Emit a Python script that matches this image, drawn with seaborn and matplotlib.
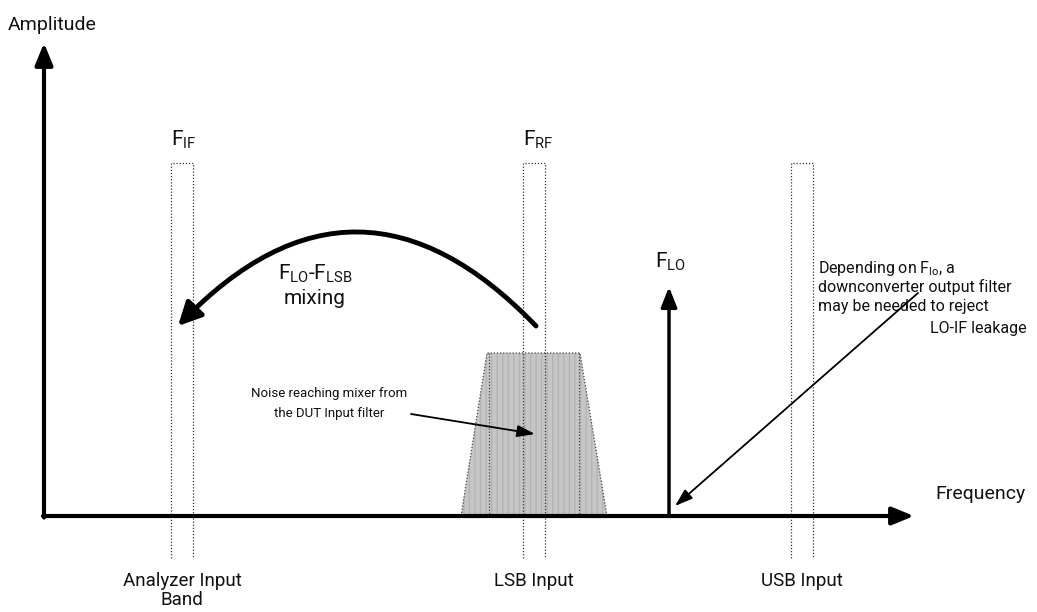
import matplotlib
matplotlib.use("Agg")
import matplotlib.pyplot as plt
import seaborn as sns
from matplotlib.patches import Polygon, FancyArrowPatch

sns.set_theme(style="white")
plt.rcParams['font.family'] = ['Roboto', 'DejaVu Sans']
plt.rcParams['mathtext.fontset'] = 'custom'
plt.rcParams['mathtext.rm'] = 'Roboto'
plt.rcParams['mathtext.it'] = 'Roboto'

# diagram layout (pixel space, y down)
band_names = [r'$\mathrm{F_{IF}}$', r'$\mathrm{F_{RF}}$', '']
band_left = [171, 523, 791]
band_width = 22
band_top = 163
band_bottom = 558
band_labels = [['Analyzer Input', 'Band'], ['LSB Input'], ['USB Input']]

baseline = 516
lo_x = 669
lo_top = 287

trap_x = [461, 487, 580, 607]
trap_top = 353

fig = plt.figure(figsize=(10.37, 6.12), dpi=100)
ax = fig.add_axes([0, 0, 1, 1])
ax.set_xlim(0, 1037)
ax.set_ylim(612, 0)
ax.axis('off')

dot = (0, (1, 1.5))
txt = '#111111'

# noise trapezoid
trap = Polygon([(trap_x[0], baseline), (trap_x[1], trap_top), (trap_x[2], trap_top), (trap_x[3], baseline)],
               closed=True, facecolor='#c6c6c6', edgecolor='#b4b4b4', hatch='|||', linewidth=0, zorder=1)
ax.add_patch(trap)
ax.plot([trap_x[0], trap_x[1], trap_x[2], trap_x[3]], [baseline, trap_top, trap_top, baseline],
        color='#444444', lw=0.9, ls=dot, zorder=2)
for x in [trap_x[1] + 2, trap_x[2] - 1]:
    ax.plot([x, x], [trap_top, baseline], color='#444444', lw=0.9, ls=dot, zorder=2)

# dotted bands
for name, left, lab in zip(band_names, band_left, band_labels):
    ax.plot([left, left, left + band_width, left + band_width],
            [band_bottom, band_top, band_top, band_bottom], color='#333333', lw=0.9, ls=dot, zorder=3)
    if name:
        ax.text(left, 140, name, fontsize=15, ha='left', va='center', color=txt)
    for i, line in enumerate(lab):
        ax.text(left + band_width / 2, 581 + 19 * i, line, fontsize=13.5, ha='center', va='center', color=txt)

# axes arrows
ax.annotate('', xy=(44, 43), xytext=(44, baseline + 1.5),
            arrowprops=dict(arrowstyle='-|>,head_width=0.45,head_length=1.1', lw=3, color='black',
                            shrinkA=0, shrinkB=0), zorder=5)
ax.annotate('', xy=(914, baseline), xytext=(43, baseline),
            arrowprops=dict(arrowstyle='-|>,head_width=0.45,head_length=1.1', lw=3, color='black',
                            shrinkA=0, shrinkB=0), zorder=5)
ax.text(8, 25, 'Amplitude', fontsize=14, ha='left', va='center', color=txt)
ax.text(935, 494, 'Frequency', fontsize=14, ha='left', va='center', color=txt)

# LO line
ax.annotate('', xy=(lo_x, lo_top), xytext=(lo_x, baseline),
            arrowprops=dict(arrowstyle='-|>,head_width=0.4,head_length=1.0', lw=2.5, color='black',
                            shrinkA=0, shrinkB=0), zorder=5)
ax.text(655, 262, r'$\mathrm{F_{LO}}$', fontsize=15, ha='left', va='center', color=txt)

# mixing arc
arc = FancyArrowPatch((536, 326), (178, 326), connectionstyle='arc3,rad=0.52',
                      arrowstyle='-|>,head_width=7,head_length=14', lw=3.5, color='black',
                      shrinkA=0, shrinkB=0, zorder=6)
ax.add_patch(arc)
ax.text(315, 274, r'$\mathrm{F_{LO}}$-$\mathrm{F_{LSB}}$', fontsize=15, ha='center', va='center', color=txt)
ax.text(315, 299, 'mixing', fontsize=15, ha='center', va='center', color=txt)

# noise note
ax.text(329, 394, 'Noise reaching mixer from', fontsize=9.5, ha='center', va='center', color=txt)
ax.text(329, 414, 'the DUT Input filter', fontsize=9.5, ha='center', va='center', color=txt)
ax.annotate('', xy=(535, 434), xytext=(411, 414),
            arrowprops=dict(arrowstyle='-|>,head_width=0.3,head_length=0.9', lw=1.3, color='black',
                            shrinkA=0, shrinkB=0), zorder=6)

# leakage note
note_lines = ['Depending on $\\mathrm{F_{lo}}$, a', 'downconverter output filter', 'may be needed to reject']
for i, line in enumerate(note_lines):
    ax.text(818, 268 + 19 * i, line, fontsize=11.5, ha='left', va='center', color=txt)
ax.text(1027, 329, 'LO-IF leakage', fontsize=11.5, ha='right', va='center', color=txt)
ax.annotate('', xy=(675, 506), xytext=(918, 293),
            arrowprops=dict(arrowstyle='-|>,head_width=0.3,head_length=0.9', lw=1.3, color='black',
                            shrinkA=0, shrinkB=0), zorder=6)

fig.savefig('out.png', dpi=100)
